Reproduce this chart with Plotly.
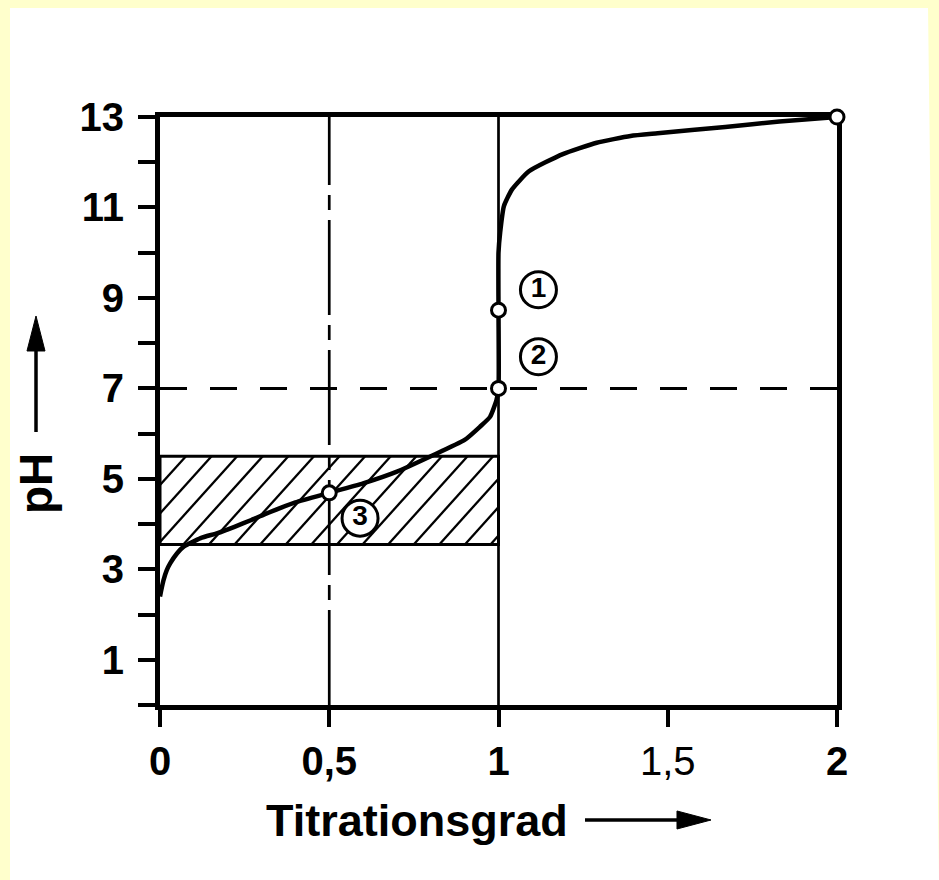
import numpy as np
import plotly.graph_objects as go

# ---------------- data ----------------
curve_x = [0.0, 0.004, 0.01, 0.02, 0.03, 0.05, 0.07, 0.12, 0.17, 0.22, 0.27, 0.31,
           0.40, 0.50, 0.60, 0.70, 0.80, 0.90, 0.945, 0.975, 0.994, 1.0, 1.0, 1.0,
           1.005, 1.016, 1.04, 1.09, 1.19, 1.29, 1.39, 1.47, 1.67, 1.83, 2.0]
curve_ph = [2.4, 2.55, 2.75, 2.98, 3.13, 3.35, 3.5, 3.69, 3.80, 3.94, 4.09, 4.22,
            4.48, 4.69, 4.9, 5.16, 5.5, 5.86, 6.15, 6.37, 6.74, 7.0, 8.73, 10.0,
            10.45, 11.03, 11.4, 11.8, 12.18, 12.43, 12.58, 12.64, 12.78, 12.9, 13.0]

point_x = [0.5, 1.0, 1.0, 2.0]
point_ph = [4.69, 7.0, 8.73, 13.0]

label_text = ["1", "2", "3"]
label_x = [1.118, 1.118, 0.591]
label_ph = [9.18, 7.70, 4.13]

buffer_lo = 3.55
buffer_hi = 5.5
buffer_x0 = 0.0
buffer_x1 = 1.0

neutral_ph = 7.0
half_grade = 0.5
equiv_grade = 1.0

x_tickvals = [0, 0.5, 1, 1.5, 2]
x_ticktext = ["<b>0</b>", "<b>0,5</b>", "<b>1</b>", "1,5", "<b>2</b>"]
y_tickvals = list(range(0, 14))
y_ticktext = ["" if v % 2 == 0 else "<b>%d</b>" % v for v in y_tickvals]

x_title = "Titrationsgrad"
y_title = "pH"

# ---------------- layout geometry ----------------
W, H = 939, 880
ML, MR, MT, MB = 160, 102, 117, 175
PW = W - ML - MR
PH = H - MT - MB
XMAX, YMAX = 2.0, 13.0
px_per_x = PW / XMAX
px_per_y = PH / YMAX
YELLOW = "#FFFFCC"


def pxx(p):
    return (p - ML) / PW


def pxy(p):
    return (H - MB - p) / PH


# hatch lines (computed in pixel space, converted to data units)
hx, hy = [], []
left_px = ML + buffer_x0 * px_per_x
right_px = ML + buffer_x1 * px_per_x
hpx = (buffer_hi - buffer_lo) * px_per_y
slope = 1.11
spacing = 25.6
start = left_px + 23.3 - spacing * int(hpx / slope / spacing + 2)
xb = start
while xb < right_px:
    x_a, y_a = xb, 0.0
    x_b, y_b = xb + hpx / slope, hpx
    if x_a < left_px:
        y_a = (left_px - x_a) * slope
        x_a = left_px
    if x_b > right_px:
        y_b = hpx - (x_b - right_px) * slope
        x_b = right_px
    if x_b > x_a:
        hx += [(x_a - ML) / px_per_x, (x_b - ML) / px_per_x, None]
        hy += [buffer_lo + y_a / px_per_y, buffer_lo + y_b / px_per_y, None]
    xb += spacing

fig = go.Figure()

fig.add_trace(go.Scatter(x=hx, y=hy, mode="lines",
                         line=dict(color="black", width=2.3),
                         hoverinfo="skip", showlegend=False))

fig.add_trace(go.Scatter(x=curve_x, y=curve_ph, mode="lines",
                         line=dict(color="black", width=4.5, shape="spline", smoothing=0.5),
                         showlegend=False, cliponaxis=False))

fig.add_trace(go.Scatter(x=point_x, y=point_ph, mode="markers",
                         marker=dict(symbol="circle", size=14, color="white",
                                     line=dict(color="black", width=3)),
                         showlegend=False, cliponaxis=False))

fig.add_trace(go.Scatter(x=label_x, y=label_ph, mode="markers+text",
                         text=["<b>%s</b>" % t for t in label_text],
                         textposition="middle center",
                         textfont=dict(family="Liberation Sans", size=28, color="black"),
                         marker=dict(symbol="circle", size=36, color="white",
                                     line=dict(color="black", width=3)),
                         showlegend=False, cliponaxis=False))

shapes = []
# white page over yellow background
shapes.append(dict(type="path", xref="paper", yref="paper",
                   path="M %f,%f L %f,%f L %f,%f L %f,%f Z" % (
                       pxx(10), pxy(8), pxx(928), pxy(8), pxx(939), pxy(880), pxx(10), pxy(880)),
                   fillcolor="white", line=dict(width=0), layer="below"))
# buffer band outline
shapes.append(dict(type="rect", xref="x", yref="y", x0=buffer_x0, x1=buffer_x1,
                   y0=buffer_lo, y1=buffer_hi, line=dict(color="black", width=3),
                   layer="below"))
# equivalence vertical line
shapes.append(dict(type="line", xref="x", yref="y", x0=equiv_grade, x1=equiv_grade,
                   y0=0, y1=YMAX, line=dict(color="black", width=2.7), layer="below"))
# half-equivalence dash-dot line
shapes.append(dict(type="line", xref="x", yref="y", x0=half_grade, x1=half_grade,
                   y0=0, y1=YMAX, line=dict(color="black", width=2.7,
                                            dash="95px,10px,15px,10px"), layer="below"))
# neutral pH dashed line
shapes.append(dict(type="line", xref="x", yref="y", x0=0, x1=XMAX,
                   y0=neutral_ph, y1=neutral_ph,
                   line=dict(color="black", width=3, dash="27px,23px"), layer="below"))
# x-axis arrow
shapes.append(dict(type="line", xref="paper", yref="paper", x0=pxx(585), x1=pxx(682),
                   y0=pxy(820), y1=pxy(820), line=dict(color="black", width=3.5)))
shapes.append(dict(type="path", xref="paper", yref="paper",
                   path="M %f,%f L %f,%f L %f,%f Z" % (pxx(677), pxy(811), pxx(711), pxy(820),
                                                      pxx(677), pxy(829)),
                   fillcolor="black", line=dict(color="black", width=1)))
# y-axis arrow
shapes.append(dict(type="line", xref="paper", yref="paper", x0=pxx(36), x1=pxx(36),
                   y0=pxy(432), y1=pxy(345), line=dict(color="black", width=3.5)))
shapes.append(dict(type="path", xref="paper", yref="paper",
                   path="M %f,%f L %f,%f L %f,%f Z" % (pxx(27), pxy(351), pxx(36), pxy(316),
                                                      pxx(45), pxy(351)),
                   fillcolor="black", line=dict(color="black", width=1)))

annotations = [
    dict(text="<b>%s</b>" % x_title, xref="paper", yref="paper", x=pxx(417), y=pxy(820),
         xanchor="center", yanchor="middle", showarrow=False,
         font=dict(family="Liberation Sans", size=45, color="black")),
    dict(text="<b>%s</b>" % y_title, xref="paper", yref="paper", x=pxx(36), y=pxy(484),
         xanchor="center", yanchor="middle", showarrow=False, textangle=-90,
         font=dict(family="Liberation Sans", size=46, color="black")),
]

fig.update_layout(
    width=W, height=H,
    margin=dict(l=ML, r=MR, t=MT, b=MB),
    paper_bgcolor=YELLOW, plot_bgcolor="white",
    shapes=shapes, annotations=annotations,
    showlegend=False,
    xaxis=dict(range=[0, XMAX], tickvals=x_tickvals, ticktext=x_ticktext,
               showgrid=False, zeroline=False, showline=True, linewidth=5,
               linecolor="black", mirror=True, ticks="outside", ticklen=17,
               tickwidth=3.5, tickcolor="black", layer="below traces",
               tickfont=dict(family="Liberation Sans", size=40, color="black")),
    yaxis=dict(range=[0, YMAX], tickvals=y_tickvals, ticktext=y_ticktext,
               showgrid=False, zeroline=False, showline=True, linewidth=5,
               linecolor="black", mirror=True, ticks="outside", ticklen=17,
               tickwidth=3.5, tickcolor="black", layer="below traces",
               ticklabelstandoff=6,
               tickfont=dict(family="Liberation Sans", size=40, color="black")),
)

fig.write_html(
    "out.html",
    config={"displayModeBar": False},
    post_script="document.body.style.margin='0';"
                "document.body.style.overflow='hidden';"
                "document.body.style.background='%s';" % YELLOW,
)
